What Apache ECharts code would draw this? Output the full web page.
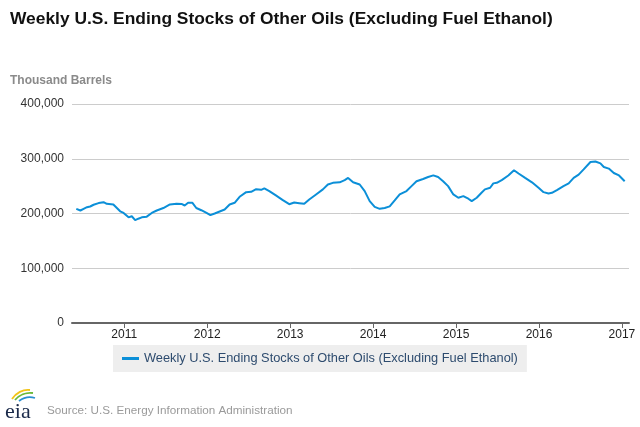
<!DOCTYPE html>
<html>
<head>
<meta charset="utf-8">
<script src="https://cdn.jsdelivr.net/npm/echarts@6/dist/echarts.min.js"></script>
<style>
html,body{margin:0;padding:0;background:#fff;}
#chart{width:640px;height:427px;}
</style>
</head>
<body>
<div id="chart"></div>
<script>
const titleText = 'Weekly U.S. Ending Stocks of Other Oils (Excluding Fuel Ethanol)';
const unitText = 'Thousand Barrels';
const seriesName = 'Weekly U.S. Ending Stocks of Other Oils (Excluding Fuel Ethanol)';
const sourceText = 'Source: U.S. Energy Information Administration';
const yearTicks = [2011, 2012, 2013, 2014, 2015, 2016, 2017];
const yTicks = [0, 100000, 200000, 300000, 400000];

const dates = [
 '2010-06-04','2010-06-22','2010-07-06','2010-07-21','2010-08-04','2010-08-19','2010-09-10','2010-10-02','2010-10-16','2010-11-14',
 '2010-11-22','2010-12-14','2010-12-29','2011-01-20','2011-02-03','2011-02-18','2011-03-04','2011-03-19','2011-04-10','2011-05-02',
 '2011-05-24','2011-06-22','2011-07-21','2011-08-19','2011-09-10','2011-09-24','2011-10-09','2011-10-28','2011-11-14','2011-12-06',
 '2011-12-29','2012-01-15','2012-02-03','2012-02-25','2012-03-18','2012-04-09','2012-05-01','2012-05-23','2012-06-21','2012-07-13',
 '2012-08-04','2012-08-26','2012-09-09','2012-10-01','2012-10-30','2012-11-28','2012-12-28','2013-01-19','2013-02-10','2013-03-04',
 '2013-03-26','2013-04-25','2013-05-25','2013-06-16','2013-07-08','2013-08-07','2013-08-29','2013-09-13','2013-10-05','2013-11-03',
 '2013-11-25','2013-12-17','2014-01-08','2014-01-30','2014-02-21','2014-03-15','2014-04-06','2014-04-28','2014-05-28','2014-06-19',
 '2014-07-11','2014-08-09','2014-08-31','2014-09-23','2014-10-14','2014-11-05','2014-11-27','2014-12-20','2015-01-11','2015-02-02',
 '2015-02-24','2015-03-11','2015-04-02','2015-04-23','2015-05-08','2015-05-31','2015-06-14','2015-06-29','2015-07-21','2015-08-19',
 '2015-09-13','2015-10-03','2015-11-01','2015-12-01','2015-12-30','2016-01-21','2016-02-12','2016-02-27','2016-03-20','2016-04-18',
 '2016-05-11','2016-06-02','2016-06-24','2016-07-16','2016-08-15','2016-09-06','2016-09-28','2016-10-13','2016-11-04','2016-11-26',
 '2016-12-19','2017-01-13'
];
const values = [
 208500,205500,208500,211600,212800,216000,219000,220700,217700,216500,
 214600,204000,201000,193000,195000,188000,190500,193000,194200,201000,
 205500,210000,216500,218000,217400,214600,219500,219500,210000,206000,
 201000,197000,200000,203700,207300,216500,219500,230500,239000,239600,
 244500,243300,246000,241000,233000,225000,217000,220100,218900,217700,
 225600,234800,244000,253000,256000,257000,261000,265000,257000,253000,
 240900,222600,212000,208500,210000,213000,223800,234800,241000,250000,
 259000,263000,266600,269600,266600,259000,250000,234800,228700,231700,
 227000,222600,228700,237800,244000,247000,255000,256000,261000,269500,
 279000,273000,265000,257000,247000,239000,236700,237800,242700,250000,
 255000,265000,271000,280500,294000,295000,291500,285000,282000,274000,
 269500,259000
];

function toYear(s) {
  const d = new Date(s + 'T00:00:00Z');
  const y = d.getUTCFullYear();
  const start = Date.UTC(y, 0, 1), end = Date.UTC(y + 1, 0, 1);
  return y + (d.getTime() - start) / (end - start);
}

const chart = echarts.init(document.getElementById('chart'));
const data = dates.map((d, i) => [toYear(d), values[i]]);
const font = 'Liberation Sans, Arial, sans-serif';

chart.setOption({
  animation: false,
  backgroundColor: '#fff',
  textStyle: {fontFamily: font},
  title: [
    {text: titleText, left: 5, top: 6,
     textStyle: {fontFamily: font, fontSize: 17.4, fontWeight: 'bold', color: '#111'}},
    {text: unitText, left: 5, top: 70,
     textStyle: {fontFamily: font, fontSize: 12, fontWeight: 'bold', color: '#8a8a8a'}},
    {text: sourceText, left: 42, top: 400,
     textStyle: {fontFamily: font, fontSize: 11.7, fontWeight: 'normal', color: '#9a9a9a'}}
  ],
  grid: {left: 72, right: 11, top: 104, bottom: 104, containLabel: false},
  legend: {
    left: 113, top: 345,
    backgroundColor: '#eeeeee',
    padding: [7, 9, 7, 9],
    itemWidth: 17, itemHeight: 3, itemGap: 0,
    icon: 'rect',
    textStyle: {fontSize: 12.8, color: '#2d4b6e', fontFamily: font},
    data: [seriesName]
  },
  xAxis: {
    type: 'value',
    min: 2010.37, max: 2017.085,
    axisLine: {lineStyle: {color: '#666', width: 2}},
    axisTick: {show: true, customValues: yearTicks, length: 5, lineStyle: {color: '#666', width: 1}},
    axisLabel: {customValues: yearTicks, color: '#222', fontSize: 12, margin: 6,
      formatter: v => String(Math.round(v))},
    splitLine: {show: false}
  },
  yAxis: {
    type: 'value', min: 0, max: 400000, interval: 100000,
    axisLine: {show: false}, axisTick: {show: false},
    axisLabel: {color: '#333', fontSize: 12, margin: 8,
      formatter: v => v.toLocaleString('en-US')},
    splitLine: {lineStyle: {color: '#cccccc', width: 1}}
  },
  series: [{
    name: seriesName, type: 'line', data: data,
    showSymbol: false, symbol: 'none',
    lineStyle: {color: '#0b8fd8', width: 2},
    itemStyle: {color: '#0b8fd8'}
  }],
  graphic: [
    {type: 'text', left: 5, top: 401, style: {text: 'eia', font: '22px "Liberation Serif", serif', fill: '#1a2a4a'}},
    {type: 'bezierCurve', shape: {x1: 12, y1: 399, x2: 30, y2: 390, cpx1: 16, cpy1: 393, cpx2: 23, cpy2: 389},
     style: {stroke: '#f2c418', lineWidth: 1.8, fill: null}},
    {type: 'bezierCurve', shape: {x1: 15, y1: 400, x2: 33, y2: 393, cpx1: 19, cpy1: 395, cpx2: 26, cpy2: 392},
     style: {stroke: '#6cb93a', lineWidth: 1.8, fill: null}},
    {type: 'bezierCurve', shape: {x1: 19, y1: 401, x2: 35, y2: 398, cpx1: 23, cpy1: 398, cpx2: 29, cpy2: 396},
     style: {stroke: '#2a8fd0', lineWidth: 1.8, fill: null}}
  ]
});
</script>
</body>
</html>
